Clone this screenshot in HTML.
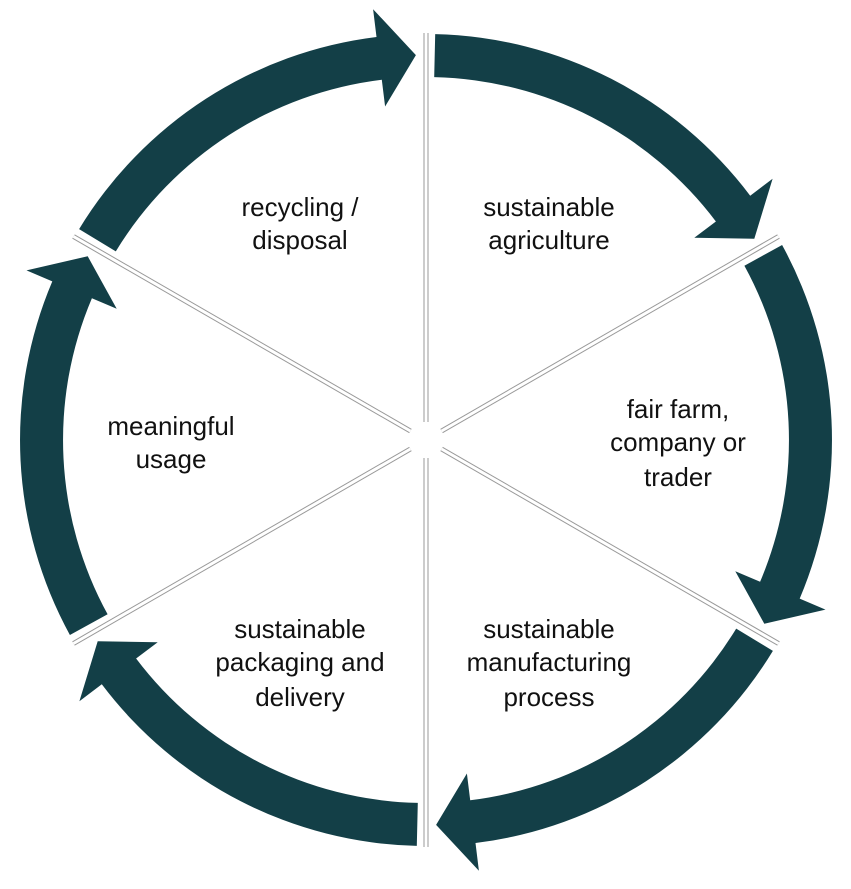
<!DOCTYPE html>
<html><head><meta charset="utf-8"><style>
html,body{margin:0;padding:0;background:#fff;}
svg{display:block;}
text{font-family:"Liberation Sans",sans-serif;font-size:26px;fill:#111;text-anchor:middle;}
</style></head><body>
<svg id="s" width="851" height="889" viewBox="0 0 851 889" xmlns="http://www.w3.org/2000/svg">
<g id="arcs" fill="#133f47"></g>
<g id="spokes"></g>
<text x="300" y="216">recycling /</text>
<text x="300" y="249">disposal</text>
<text x="549" y="216">sustainable</text>
<text x="549" y="249">agriculture</text>
<text x="678" y="418">fair farm,</text>
<text x="678" y="451">company or</text>
<text x="678" y="486">trader</text>
<text x="549" y="638">sustainable</text>
<text x="549" y="671">manufacturing</text>
<text x="549" y="706">process</text>
<text x="300" y="638">sustainable</text>
<text x="300" y="671">packaging and</text>
<text x="300" y="706">delivery</text>
<text x="171" y="435">meaningful</text>
<text x="171" y="468">usage</text>
</svg>
<script>
var cx=426,cy=440,Ro=406,Ri=363,Rm=385,Rao=434,Rai=336;
function P(r,a){a=a*Math.PI/180;return (cx+r*Math.cos(a)).toFixed(1)+","+(cy-r*Math.sin(a)).toFixed(1);}
var g=document.getElementById("arcs"),sp=document.getElementById("spokes"),ns="http://www.w3.org/2000/svg";
var spokes=[90,30,-30,-90,-150,150];
for(var i=0;i<6;i++){
 var s=spokes[i]-1.3, t=spokes[(i+1)%6]+1.5; if(t>s)t-=360;
 var b=t+5.5;
 var d="M"+P(Ro,s)+" A"+Ro+","+Ro+" 0 0 1 "+P(Ro,b)+" L"+P(Rao,b)+" L"+P(Rm,t)+" L"+P(Rai,b)+" L"+P(Ri,b)+" A"+Ri+","+Ri+" 0 0 0 "+P(Ri,s)+" Z";
 var p=document.createElementNS(ns,"path");p.setAttribute("d",d);g.appendChild(p);
}
for(var i=0;i<6;i++){
 var a=spokes[i];
 ["#999","#fff"].forEach(function(c,k){
  var l=document.createElementNS(ns,"line");
  var p1=P(18,a).split(","),p2=P(407,a).split(",");
  l.setAttribute("x1",p1[0]);l.setAttribute("y1",p1[1]);l.setAttribute("x2",p2[0]);l.setAttribute("y2",p2[1]);
  l.setAttribute("stroke",c);l.setAttribute("stroke-width",k?3:5);sp.appendChild(l);
 });
}
</script>
</body></html>
